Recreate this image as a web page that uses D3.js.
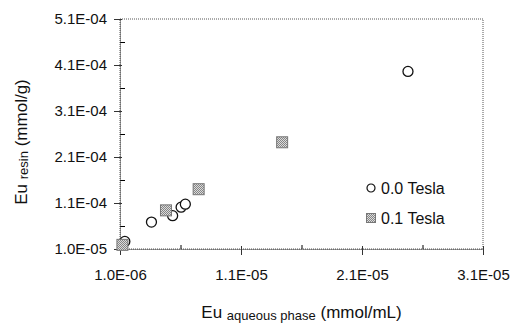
<!DOCTYPE html>
<html>
<head>
<meta charset="utf-8">
<script src="https://cdn.jsdelivr.net/npm/d3@7"></script>
<style>
  body { margin: 0; background: #fff; }
  text { font-family: "Liberation Sans", Arial, Helvetica, sans-serif; fill: #111; }
</style>
</head>
<body>
<div id="chart"></div>
<script>
// Eu on the resin vs Eu in the aqueous phase
const series = ["0.0 Tesla", "0.1 Tesla"];

const teslaZeroX = [1.4e-6, 3.6e-6, 5.35e-6, 6.05e-6, 6.4e-6, 2.48e-5];
const teslaZeroY = [2.65e-5, 6.85e-5, 8.25e-5, 1.01e-4, 1.075e-4, 3.96e-4];

const teslaOneX = [1.2e-6, 4.8e-6, 7.5e-6, 1.44e-5];
const teslaOneY = [1.9e-5, 9.4e-5, 1.4e-4, 2.42e-4];

const xTicks = [1e-6, 1.1e-5, 2.1e-5, 3.1e-5];
const xTickLabels = ["1.0E-06", "1.1E-05", "2.1E-05", "3.1E-05"];
const xMinorTicks = [6e-6, 1.6e-5, 2.6e-5];

const yTicks = [1e-5, 1.1e-4, 2.1e-4, 3.1e-4, 4.1e-4, 5.1e-4];
const yTickLabels = ["1.0E-05", "1.1E-04", "2.1E-04", "3.1E-04", "4.1E-04", "5.1E-04"];
const yMinorTicks = [6e-5, 1.6e-4, 2.6e-4, 3.6e-4, 4.6e-4];

const width = 518;
const height = 328;
const plot = {left: 120, right: 483, top: 19, bottom: 249};

const x = d3.scaleLinear().domain([1e-6, 3.1e-5]).range([plot.left, plot.right]);
const y = d3.scaleLinear().domain([1e-5, 5.1e-4]).range([plot.bottom, plot.top]);

const svg = d3.select("#chart")
    .append("svg")
    .attr("width", width)
    .attr("height", height);

// stippled grey fill for the square markers
const pat = svg.append("defs").append("pattern")
    .attr("id", "stipple")
    .attr("width", 2).attr("height", 2)
    .attr("patternUnits", "userSpaceOnUse");
pat.append("rect").attr("width", 2).attr("height", 2).attr("fill", "#dcdcdc");
pat.append("rect").attr("width", 1).attr("height", 1).attr("fill", "#858585");
pat.append("rect").attr("x", 1).attr("y", 1).attr("width", 1).attr("height", 1).attr("fill", "#858585");

// frame (top and right sides show as dotted lines)
svg.append("rect")
    .attr("x", plot.left).attr("y", plot.top)
    .attr("width", plot.right - plot.left)
    .attr("height", plot.bottom - plot.top)
    .attr("fill", "none")
    .attr("stroke", "#555")
    .attr("stroke-dasharray", "1,1");

// minor ticks, inside only
svg.append("g")
    .attr("transform", `translate(0,${plot.bottom})`)
    .call(d3.axisBottom(x).tickValues(xMinorTicks).tickSize(-4).tickSizeOuter(0).tickFormat(""))
    .call(g => g.select(".domain").remove());

svg.append("g")
    .attr("transform", `translate(${plot.left},0)`)
    .call(d3.axisLeft(y).tickValues(yMinorTicks).tickSize(-5).tickSizeOuter(0).tickFormat(""))
    .call(g => g.select(".domain").remove());

// major axes
const xAxis = svg.append("g")
    .attr("transform", `translate(0,${plot.bottom})`)
    .call(d3.axisBottom(x).tickValues(xTicks).tickSize(6).tickSizeOuter(0)
        .tickPadding(14).tickFormat((d, i) => xTickLabels[i]));
xAxis.selectAll(".tick line").attr("y1", -3).attr("stroke", "#333");

const yAxis = svg.append("g")
    .attr("transform", `translate(${plot.left},0)`)
    .call(d3.axisLeft(y).tickValues(yTicks).tickSize(6).tickSizeOuter(0)
        .tickPadding(7).tickFormat((d, i) => yTickLabels[i]));
yAxis.selectAll(".tick line").attr("x1", 2).attr("stroke", "#333");

svg.selectAll(".domain").attr("stroke", "#333").attr("stroke-dasharray", "1,1");
svg.selectAll(".tick text")
    .attr("font-family", "Liberation Sans, Arial, sans-serif")
    .attr("font-size", 15)
    .attr("fill", "#111");

// points: circles (0.0 Tesla), then squares (0.1 Tesla)
const zeroData = teslaZeroX.map((v, i) => ({x: v, y: teslaZeroY[i]}));
const oneData = teslaOneX.map((v, i) => ({x: v, y: teslaOneY[i]}));

svg.append("g").selectAll("circle")
    .data(zeroData)
    .enter()
    .append("circle")
    .attr("cx", d => x(d.x))
    .attr("cy", d => y(d.y))
    .attr("r", 5)
    .attr("fill", "#fff")
    .attr("stroke", "#111")
    .attr("stroke-width", 1.3);

const sq = 11;
svg.append("g").selectAll("rect")
    .data(oneData)
    .enter()
    .append("rect")
    .attr("x", d => x(d.x) - sq / 2)
    .attr("y", d => y(d.y) - sq / 2)
    .attr("width", sq)
    .attr("height", sq)
    .attr("fill", "url(#stipple)")
    .attr("stroke", "#777")
    .attr("stroke-width", 1);

// legend
const legend = svg.append("g").attr("transform", "translate(371,188)");
legend.append("circle")
    .attr("r", 4)
    .attr("fill", "#fff")
    .attr("stroke", "#111")
    .attr("stroke-width", 1.2);
legend.append("rect")
    .attr("x", -4.5).attr("y", 25.5)
    .attr("width", 9).attr("height", 9)
    .attr("fill", "url(#stipple)")
    .attr("stroke", "#777");
legend.selectAll("text.lab")
    .data(series)
    .enter()
    .append("text")
    .attr("class", "lab")
    .attr("x", 10)
    .attr("y", (d, i) => i * 30 + 5.5)
    .attr("font-size", 16)
    .text(d => d);

// axis titles
const xTitle = svg.append("text")
    .attr("x", (plot.left + plot.right) / 2)
    .attr("y", 318)
    .attr("text-anchor", "middle")
    .attr("font-size", 17);
xTitle.append("tspan").text("Eu ");
xTitle.append("tspan").attr("font-size", 13).attr("dy", 2).text("aqueous phase");
xTitle.append("tspan").attr("dy", -2).text(" (mmol/mL)");

const yTitle = svg.append("text")
    .attr("transform", `translate(27,${(plot.top + plot.bottom) / 2 + 8}) rotate(-90)`)
    .attr("text-anchor", "middle")
    .attr("font-size", 17);
yTitle.append("tspan").text("Eu ");
yTitle.append("tspan").attr("font-size", 13).attr("dy", 1).text("resin");
yTitle.append("tspan").attr("dy", -1).text(" (mmol/g)");
</script>
</body>
</html>
